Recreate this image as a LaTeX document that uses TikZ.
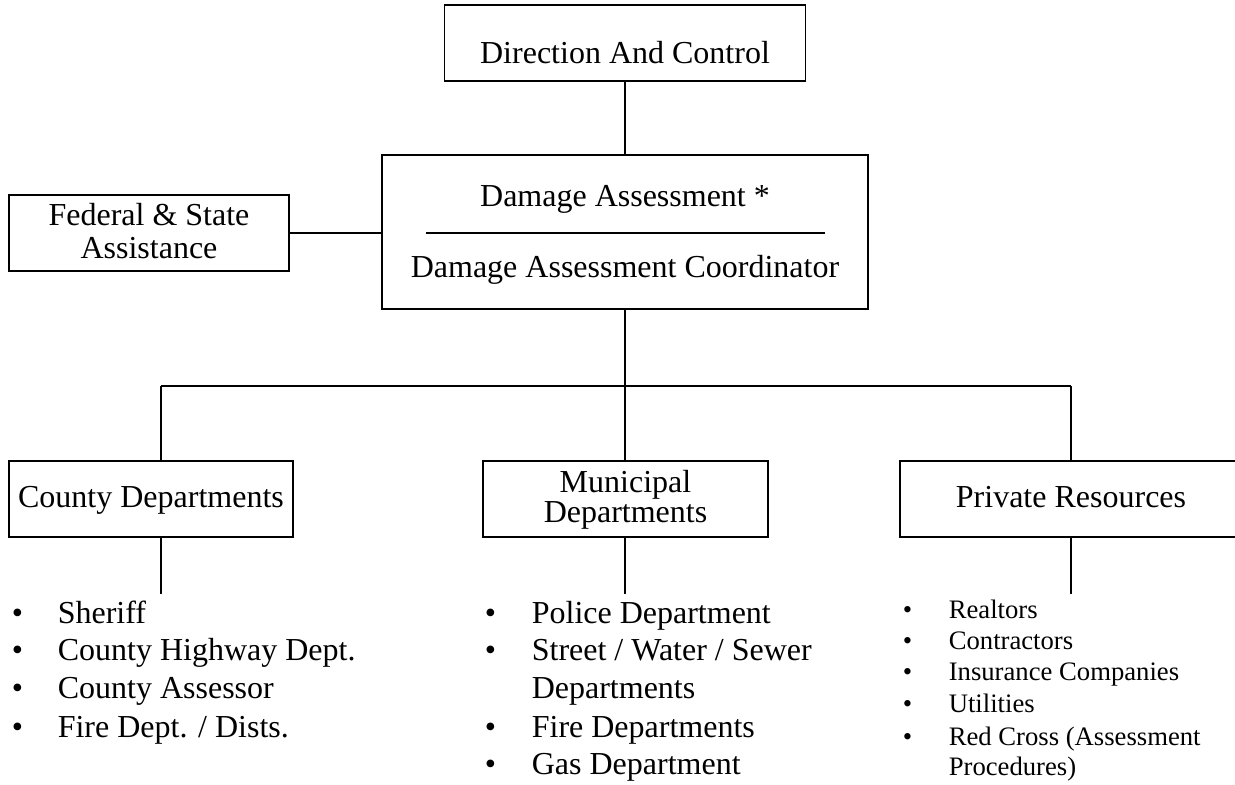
\documentclass[tikz,border=0pt]{standalone}
\usepackage{fontspec}
\setmainfont{Liberation Serif}
\begin{document}
\begin{tikzpicture}[x=0.375pt,y=-0.375pt,
  line width=0.6pt,
  boxed/.style={draw, rectangle, inner sep=0pt, minimum height=28.5pt},
  lbl/.style={anchor=base, inner sep=0pt, font=\fontsize{12}{14.25}\selectfont},
  itemA/.style={anchor=base west, inner sep=0pt, font=\fontsize{12}{14.25}\selectfont},
  itemB/.style={anchor=base west, inner sep=0pt, font=\fontsize{10}{12}\selectfont}]
\useasboundingbox (0,0) rectangle (1235,784);
\clip (0,0) rectangle (1235,784);

% boxes
\node[boxed, minimum width=135.4pt] (dir) at (625,43) {};
\node[boxed, minimum width=182.25pt, minimum height=57.75pt] (dmg) at (625,232) {};
\node[boxed, minimum width=105pt] (fed) at (149,233) {};
\node[boxed, minimum width=106.5pt] (cty) at (151,499) {};
\node[boxed, minimum width=106.9pt] (mun) at (625.5,499) {};
\node[boxed, minimum width=128.25pt] (prv) at (1071,499) {};

% box texts
\node[lbl] (tdir) at (625,64) {Direction And Control};
\node[lbl] (tdmg1) at (625,207) {Damage Assessment *};
\node[lbl] (tdmg2) at (625,277) {Damage Assessment Coordinator};
\node[lbl] (tfed1) at (149,226) {Federal \& State};
\node[lbl] (tfed2) at (149,258) {Assistance};
\node[lbl] (tcty) at (151,507) {County Departments};
\node[lbl] (tmun1) at (625.5,492) {Municipal};
\node[lbl] (tmun2) at (625.5,522) {Departments};
\node[lbl] (tprv) at (1071,507) {Private Resources};

% divider inside the coordinator box
\draw (426,233) -- (825,233);

% connectors
\draw (dir.south) -- (dmg.north);
\draw (fed.east) -- (fed.east -| dmg.west);
\coordinate (jc) at (161,386);
\coordinate (jm) at (625,386);
\coordinate (jp) at (1071,386);
\draw (dmg.south) -- (jm);
\draw (jc) -- (jp);
\draw (jc) -- (jc |- cty.north);
\draw (jm) -- (jm |- mun.north);
\draw (jp) -- (jp |- prv.north);
\coordinate (ec) at (161,594);
\coordinate (em) at (625,594);
\coordinate (ep) at (1071,594);
\draw (ec |- cty.south) -- (ec);
\draw (em |- mun.south) -- (em);
\draw (ep |- prv.south) -- (ep);

% county list
\node[itemA] (bc1) at (11,623) {\textbullet};
\node[itemA] (bc2) at (11,660) {\textbullet};
\node[itemA] (bc3) at (11,698) {\textbullet};
\node[itemA] (bc4) at (11,737) {\textbullet};
\node[itemA] (c1) at (57,623) {Sheriff};
\node[itemA] (c2) at (57,660) {County Highway Dept.};
\node[itemA] (c3) at (57,698) {County Assessor};
\node[itemA] (c4) at (57,737) {Fire Dept. / Dists.};

% municipal list
\node[itemA] (bm1) at (484,623) {\textbullet};
\node[itemA] (bm2) at (484,660) {\textbullet};
\node[itemA] (bm3) at (484,737) {\textbullet};
\node[itemA] (bm4) at (484,774) {\textbullet};
\node[itemA] (m1) at (531,623) {Police Department};
\node[itemA] (m2) at (531,660) {Street / Water / Sewer};
\node[itemA] (m2b) at (531,698) {Departments};
\node[itemA] (m3) at (531,737) {Fire Departments};
\node[itemA] (m4) at (531,774) {Gas Department};

% private list
\node[itemB] (bp1) at (902,618) {\textbullet};
\node[itemB] (bp2) at (902,649) {\textbullet};
\node[itemB] (bp3) at (902,680) {\textbullet};
\node[itemB] (bp4) at (902,712) {\textbullet};
\node[itemB] (bp5) at (902,745) {\textbullet};
\node[itemB] (p1) at (948,618) {Realtors};
\node[itemB] (p2) at (948,649) {Contractors};
\node[itemB] (p3) at (948,680) {Insurance Companies};
\node[itemB] (p4) at (948,712) {Utilities};
\node[itemB] (p5) at (948,745) {Red Cross (Assessment};
\node[itemB] (p5b) at (948,775) {Procedures)};
\end{tikzpicture}
\end{document}
